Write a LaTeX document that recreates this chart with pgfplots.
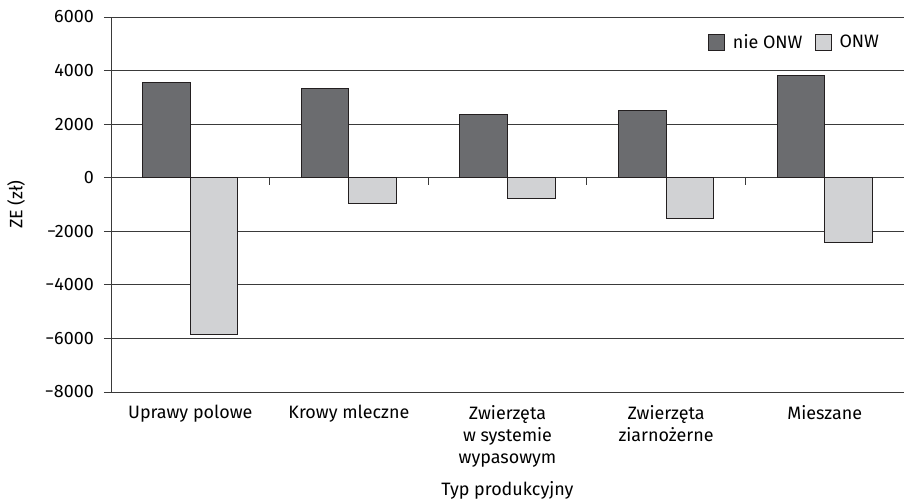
\documentclass[border=0pt]{standalone}
\usepackage{pgfplots}
\pgfplotsset{compat=1.18}
\usepackage{fontspec}
\setmainfont{Fira Sans}
\definecolor{darkbar}{HTML}{6B6C6F}
\definecolor{lightbar}{HTML}{D1D2D4}
\definecolor{edge}{HTML}{231F20}
\definecolor{gridc}{HTML}{3A3A3A}
\newcommand{\chartfont}{\fontsize{18}{22}\selectfont}
\begin{document}
\chartfont
\begin{tikzpicture}
\begin{axis}[
  scale only axis, width=793bp, height=375bp,
  ybar=0pt, bar width=0.3,
  xmin=-0.5, xmax=4.5, ymin=-8000, ymax=6000,
  xtick={0,...,4},
  xticklabels={Uprawy polowe, Krowy mleczne, {Zwierzęta\\w systemie\\wypasowym}, {Zwierzęta\\ziarnożerne}, Mieszane},
  xticklabel style={align=center, font=\chartfont},
  yticklabel style={font=\chartfont, xshift=-4bp},
  major x tick style={draw=none},
  ytick={-8000,-6000,-4000,-2000,0,2000,4000,6000},
  yticklabels={−8000,−6000,−4000,−2000,0,2000,4000,6000},
  ymajorgrids, grid style={gridc, line width=0.8pt},
  axis lines=left, axis line style={-, gridc, line width=0.8pt},
  tick align=outside, major tick length=7bp,
  y tick style={gridc, line width=0.8pt},
  ylabel={ZE (zł)}, xlabel={Typ produkcyjny},
  every axis y label/.style={at={(rel axis cs:0,0.5)}, rotate=90, anchor=center, yshift=95bp, font=\chartfont},
  every axis x label/.style={at={(rel axis cs:0.5,0)}, anchor=center, yshift=-98bp, font=\chartfont},
  legend style={at={(0.975,0.965)}, anchor=north east, draw=none, fill=none, legend columns=2,
     font=\chartfont,
     /tikz/every even column/.append style={column sep=10bp}},
  legend image code/.code={\draw[#1] (0bp,-8bp) rectangle (16bp,8bp); \path (22bp,0bp);},
  clip=false,
]
\addplot[fill=darkbar, draw=edge, line width=1pt] coordinates {(0,3540) (1,3330) (2,2375) (3,2505) (4,3810)};
\addplot[fill=lightbar, draw=edge, line width=1pt] coordinates {(0,-5870) (1,-970) (2,-770) (3,-1515) (4,-2410)};
\legend{nie ONW, ONW}
\draw[gridc, line width=0.8pt] (axis cs:0.5,0) -- ([yshift=-7bp]axis cs:0.5,0);
\draw[gridc, line width=0.8pt] (axis cs:1.5,0) -- ([yshift=-7bp]axis cs:1.5,0);
\draw[gridc, line width=0.8pt] (axis cs:2.5,0) -- ([yshift=-7bp]axis cs:2.5,0);
\draw[gridc, line width=0.8pt] (axis cs:3.5,0) -- ([yshift=-7bp]axis cs:3.5,0);
\end{axis}
\pgfresetboundingbox
\path[use as bounding box] ([xshift=-111bp,yshift=-108bp]current axis.south west) rectangle ([yshift=17bp]current axis.north east);
\end{tikzpicture}
\end{document}
